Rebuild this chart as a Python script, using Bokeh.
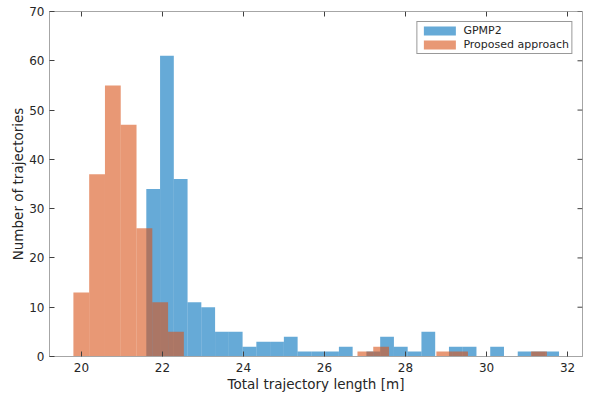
import numpy as np
from bokeh.plotting import figure
from bokeh.models import Range1d, FixedTicker, Legend, LegendItem, ColumnDataSource
from bokeh.embed import file_html
from bokeh.resources import INLINE

# Histogram data (30 bins each)
gpmp2_range = (21.6, 31.79)
gpmp2_counts = [34, 61, 36, 11, 10, 5, 5, 2, 3, 3, 4, 1, 1, 1, 2,
                0, 1, 4, 2, 1, 5, 0, 2, 2, 0, 2, 0, 1, 1, 1]
proposed_range = (19.8, 31.49)
proposed_counts = [13, 37, 55, 47, 26, 11, 5, 0, 0, 0, 0, 0, 0, 0, 0,
                   0, 0, 0, 1, 2, 0, 0, 0, 1, 1, 0, 0, 0, 0, 1]
series_names = ["GPMP2", "Proposed approach"]
x_ticks = [20, 22, 24, 26, 28, 30, 32]
y_ticks = [0, 10, 20, 30, 40, 50, 60, 70]
x_lim = (19.21, 32.37)
y_lim = (0, 70)


def hist_source(rng, counts):
    edges = np.linspace(rng[0], rng[1], len(counts) + 1)
    return ColumnDataSource(dict(left=edges[:-1], right=edges[1:],
                                 top=counts, bottom=[0] * len(counts)))


TEXT = "#262626"
AX = "#a6a6a6"
TICK = "#404040"
FONT = "DejaVu Sans"

p = figure(width=584, height=394,
           x_range=Range1d(*x_lim), y_range=Range1d(*y_lim),
           output_backend="svg", toolbar_location=None,
           min_border_left=49, min_border_top=11, min_border_right=2,
           min_border_bottom=36, background_fill_color="white")
p.grid.visible = False
p.outline_line_color = AX

r1 = p.quad(left="left", right="right", top="top", bottom="bottom",
            source=hist_source(gpmp2_range, gpmp2_counts),
            fill_color="#0072BD", fill_alpha=0.6, line_color=None)
r2 = p.quad(left="left", right="right", top="top", bottom="bottom",
            source=hist_source(proposed_range, proposed_counts),
            fill_color="#D95319", fill_alpha=0.6, line_color=None)

# mirrored inward ticks on the top and right edges of the box
p.ray(x=x_ticks, y=[y_lim[1]] * len(x_ticks), length=5, angle=-np.pi / 2,
      length_units="screen", line_color=TICK, line_width=1)
p.ray(x=[x_lim[1]] * len(y_ticks), y=y_ticks, length=5, angle=np.pi,
      length_units="screen", line_color=TICK, line_width=1)


def style_axis(ax, ticks):
    ax.ticker = FixedTicker(ticks=ticks)
    ax.axis_line_color = AX
    ax.major_tick_line_color = TICK
    ax.major_tick_in = 5
    ax.major_tick_out = 0
    ax.minor_tick_line_color = None
    ax.major_label_text_font = FONT
    ax.major_label_text_font_size = "12px"
    ax.major_label_text_color = TEXT
    ax.axis_label_text_font = FONT
    ax.axis_label_text_font_size = "13.5px"
    ax.axis_label_text_font_style = "normal"
    ax.axis_label_text_color = TEXT


style_axis(p.xaxis[0], x_ticks)
style_axis(p.yaxis[0], y_ticks)
p.xaxis[0].major_label_standoff = 6
p.yaxis[0].major_label_standoff = 5
p.xaxis[0].axis_label = "Total trajectory length [m]"
p.yaxis[0].axis_label = "Number of trajectories"
p.xaxis[0].axis_label_standoff = 1
p.yaxis[0].axis_label_standoff = 0

legend = Legend(items=[LegendItem(label=series_names[0], renderers=[r1]),
                       LegendItem(label=series_names[1], renderers=[r2])],
                location="top_right", margin=10, padding=2, spacing=1,
                glyph_width=40, glyph_height=11, label_height=13,
                label_standoff=4, label_text_font=FONT,
                label_text_font_size="11px", label_text_color=TEXT,
                border_line_color="#333333", border_line_width=1,
                background_fill_alpha=1.0)
p.add_layout(legend, "center")

open("out.html", "w").write(file_html(p, INLINE))
